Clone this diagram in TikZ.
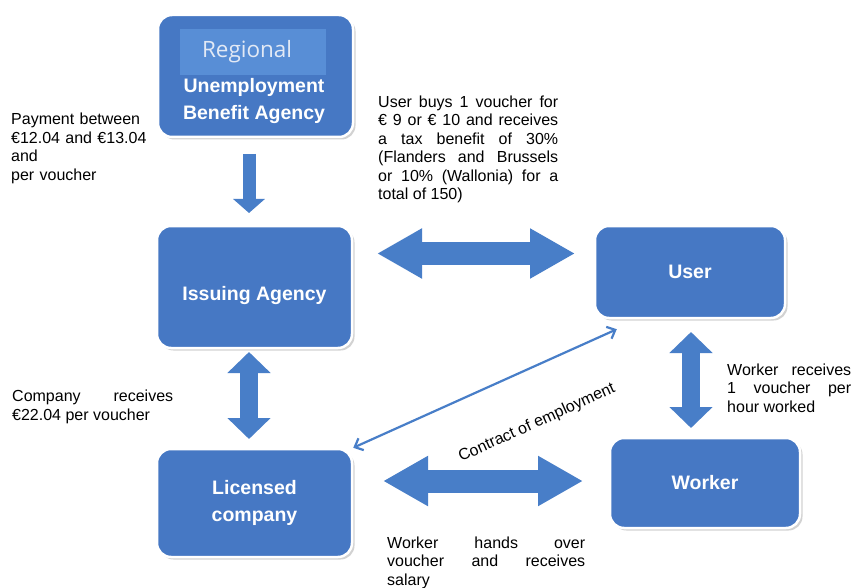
\documentclass[tikz,border=0pt]{standalone}
\usepackage{fontspec}
\setmainfont{Liberation Sans}
\newfontfamily\regionalfont{Open Sans}
\usetikzlibrary{calc,positioning,arrows.meta,shadows}

\definecolor{boxblue}{RGB}{70,120,196}
\definecolor{barblue}{RGB}{88,142,214}
\definecolor{arrowblue}{RGB}{72,126,200}
\definecolor{regionalgrey}{RGB}{226,233,245}
\newcommand{\notesize}{\fontsize{16}{18.5}\selectfont}
\newcommand{\boxsize}{\fontsize{19.5}{27}\selectfont}

\begin{document}
\begin{tikzpicture}[x=1pt, y=-1pt,
    agency/.style={rectangle, draw=white, line width=2.5pt, rounded corners=14pt, fill=boxblue,
        drop shadow={shadow xshift=2.5pt, shadow yshift=-2.5pt, opacity=0.35},
        text=white, font=\boxsize\bfseries, align=center},
    bartitle/.style={rectangle, fill=barblue, minimum width=146pt, minimum height=46pt, inner ysep=0pt,
        inner xsep=22pt, text width=102pt, align=left, text=regionalgrey, font=\regionalfont\fontsize{22.5}{26}\selectfont},
    boxlabel/.style={text=white, font=\boxsize\bfseries, align=center, inner sep=0pt},
    note/.style={anchor=north west, inner sep=0pt, font=\notesize, align=justify},
    oneway/.style={arrowblue, line width=13pt, -{Triangle[length=14pt,width=31pt]}},
    twoway/.style={arrowblue, line width=23pt, {Triangle[length=45pt,width=47pt]}-{Triangle[length=45pt,width=47pt]}},
    shortway/.style={arrowblue, line width=18pt, {Triangle[length=21pt,width=42pt]}-{Triangle[length=21pt,width=42pt]}},
    contract/.style={{Straight Barb[length=7pt,width=13pt]}-{Straight Barb[length=7pt,width=13pt]}, arrowblue, line width=2.2pt}
]
    \path[use as bounding box, fill=white] (0,0) rectangle (851,588);

    \node[agency, minimum width=195pt, minimum height=122pt] (regional) at (255.5,76) {};
    \node[bartitle] (regbar) at (253,52) {Regional};
    \node[boxlabel] (regtext) at (254,101.5) {Unemployment\\Benefit Agency};
    \node[agency, minimum width=195pt, minimum height=122pt] (issuing) at (254.5,287) {};
    \node[boxlabel] (issuingtext) at (254.5,296) {Issuing Agency};
    \node[agency, minimum width=190pt, minimum height=92pt] (user) at (690,272) {User};
    \node[agency, minimum width=195pt, minimum height=108pt] (licensed) at (254.5,503) {Licensed\\company};
    \node[agency, minimum width=190pt, minimum height=90pt] (worker) at (705,483) {Worker};

    \coordinate (paytop) at (249,154);
    \coordinate (paytip) at (249,213);
    \coordinate (buyleft) at (377,253.5);
    \coordinate (buyright) at (575,253.5);
    \coordinate (companytop) at (249,352);
    \coordinate (companybottom) at (249,439);
    \coordinate (worktop) at (691,332);
    \coordinate (workbottom) at (691,428);
    \coordinate (salaryleft) at (383,481);
    \coordinate (salaryright) at (583,481);

    \draw[oneway] (paytop) -- (paytip);
    \draw[twoway] (buyleft) -- (buyright);
    \draw[shortway] (companytop) -- (companybottom);
    \draw[shortway] (worktop) -- (workbottom);
    \draw[twoway] (salaryleft) -- (salaryright);

    \draw[contract] (licensed.north east) -- ($(user.south west)+(23,10)$);
    \node[font=\notesize, rotate=24.5, inner sep=0pt] (contractlabel) at (537,423) {Contract of employment};

    \node[note, text width=150pt, align=left] (payment) at (11,113) {Payment between\\€12.04 and €13.04\\and\\per voucher};
    \node[note, text width=180pt] (buying) at (378,95.5) {User buys 1 voucher for\linebreak € 9 or € 10 and receives\linebreak a tax benefit of 30\%\linebreak (Flanders and Brussels\linebreak or 10\% (Wallonia) for a\linebreak total of 150)};
    \node[note, text width=161pt] (companynote) at (12,390) {Company receives\linebreak €22.04 per voucher};
    \node[note, text width=124pt] (workernote) at (727,363.5) {Worker receives\linebreak 1 voucher per\linebreak hour worked};
    \node[note, text width=198pt] (handover) at (387,536.5) {Worker hands over\linebreak voucher and receives\linebreak salary};
\end{tikzpicture}
\end{document}
